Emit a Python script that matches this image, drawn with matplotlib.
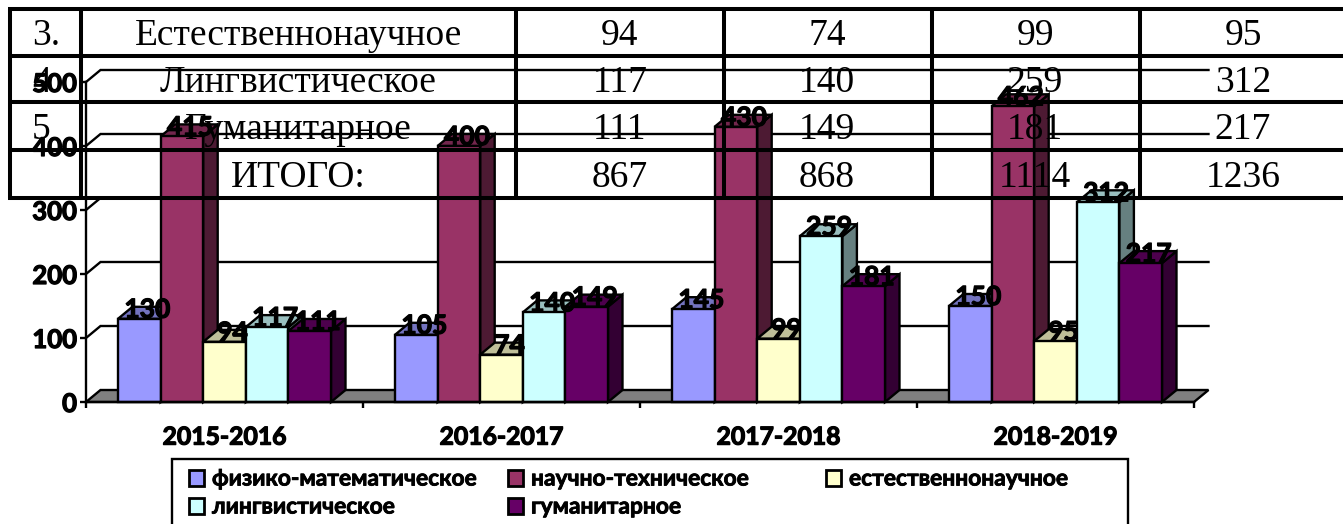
import matplotlib
matplotlib.use("Agg")
import matplotlib.pyplot as plt
import matplotlib.patheffects as pe
from matplotlib.patches import Polygon, Rectangle
from matplotlib.colors import to_rgb

# ---- data ----
years = ["2015-2016", "2016-2017", "2017-2018", "2018-2019"]
series_names = ["физико-математическое", "научно-техническое", "естественнонаучное",
                "лингвистическое", "гуманитарное"]
phys_math = [130, 105, 145, 150]
sci_tech = [415, 400, 430, 462]
natural = [94, 74, 99, 95]
linguistic = [117, 140, 259, 312]
humanities = [111, 149, 181, 217]
series_values = [phys_math, sci_tech, natural, linguistic, humanities]
series_colors = ["#9999FF", "#993366", "#FFFFCC", "#CCFFFF", "#660066"]
y_ticks = [0, 100, 200, 300, 400, 500]

table_rows = [
    ["3.", "Естественнонаучное", "94", "74", "99", "95"],
    ["4", "Лингвистическое", "117", "140", "259", "312"],
    ["5", "Гуманитарное", "111", "149", "181", "217"],
    ["", "ИТОГО:", "867", "868", "1114", "1236"],
]

# ---- layout (pixels) ----
W, H = 1343, 524
SANS = "Lato"
SERIF = "Liberation Serif"
LW = 1.7
HEAVY = [pe.withStroke(linewidth=0.9, foreground="black")]
fig = plt.figure(figsize=(W / 100, H / 100), dpi=100, facecolor="white")
L, R, B, T = 86, 1194, 402, 82
ax = fig.add_axes([L / W, 1 - B / H, (R - L) / W, (B - T) / H], zorder=1)
ax.set_xlim(0, 4)
ax.set_ylim(0, 500)
ax.patch.set_alpha(0)
for s in ("top", "right"):
    ax.spines[s].set_visible(False)
for s in ("left", "bottom"):
    ax.spines[s].set_linewidth(LW)

ddx = 14.5 / ((R - L) / 4)
ddy = 12 / ((B - T) / 500)
bar_w = 42.6 / ((R - L) / 4)

# floor and back-wall gridlines
ax.add_patch(Polygon([(0, 0), (ddx, ddy), (4 + ddx, ddy), (4, 0)], closed=True,
                     fc="#808080", ec="black", lw=LW, clip_on=False, zorder=1))
for v in y_ticks[1:]:
    ax.plot([0, ddx, 4 + ddx], [v, v + ddy, v + ddy], color="black", lw=LW,
            clip_on=False, zorder=1, solid_joinstyle="miter")


def shade(c, f):
    return tuple(x * f for x in to_rgb(c))


z = 2
for i in range(len(years)):
    for j, (vals, col) in enumerate(zip(series_values, series_colors)):
        x0 = i + 0.5 + (j - 2.5) * bar_w
        x1 = x0 + bar_w
        v = vals[i]
        ax.add_patch(Polygon([(x1, 0), (x1 + ddx, ddy), (x1 + ddx, v + ddy), (x1, v)], closed=True,
                             fc=shade(col, 0.5), ec="black", lw=LW, clip_on=False, zorder=z))
        ax.add_patch(Polygon([(x0, v), (x0 + ddx, v + ddy), (x1 + ddx, v + ddy), (x1, v)], closed=True,
                             fc=shade(col, 0.75), ec="black", lw=LW, clip_on=False, zorder=z))
        ax.bar(x0, v, width=bar_w, align="edge", color=col, edgecolor="black", lw=LW,
               clip_on=False, zorder=z)
        z += 0.01

for i in range(len(years)):
    for j, vals in enumerate(series_values):
        x = i + 0.5 + (j - 2) * bar_w + ddx * 0.55
        ax.text(x, vals[i] + ddy * 0.75, str(vals[i]), ha="center", va="center",
                family=SANS, fontweight="bold", fontsize=19, color="black", zorder=5,
                path_effects=HEAVY)

ax.set_yticks(y_ticks)
ax.set_xticks(range(5))
ax.set_xticklabels([])
ax.set_xticks([i + 0.5 for i in range(4)], minor=True)
ax.set_xticklabels(years, minor=True, family=SANS, fontweight="bold", fontsize=17.8,
                   path_effects=HEAVY)
ax.tick_params(axis="x", which="major", length=4.5, width=LW, direction="out")
ax.tick_params(axis="x", which="minor", length=0, pad=17)
ax.tick_params(axis="y", length=4.5, width=LW, pad=2, direction="out")
for t in ax.get_yticklabels():
    t.set(family=SANS, fontweight="bold", fontsize=18.5, path_effects=HEAVY)

# ---- overlay in pixel coordinates: legend box and Word table ----
ov = fig.add_axes([0, 0, 1, 1], zorder=3)
ov.set_xlim(0, W)
ov.set_ylim(H, 0)
ov.axis("off")
ov.patch.set_alpha(0)

# legend
ov.add_patch(Rectangle((172, 459), 956, 80, fc="white", ec="black", lw=LW, zorder=1))
leg_x = [189, 189, 508, 508, 826]
leg_y = [470, 498, 470, 498, 470]
leg_order = [0, 3, 1, 4, 2]
for xp, yp, k in zip(leg_x, leg_y, leg_order):
    ov.add_patch(Rectangle((xp, yp), 15, 16, fc=series_colors[k], ec="black", lw=2.0, zorder=2))
    ov.text(xp + 23, yp + 9, series_names[k], ha="left", va="center", family=SANS,
            fontweight="bold", fontsize=16.4, zorder=2,
            path_effects=[pe.withStroke(linewidth=0.6, foreground="black")])

# table grid
h_lines = [9, 56, 102, 150, 198]
v_lines = [10, 81, 516, 724, 932, 1140]
for y in h_lines:
    ov.plot([8, W], [y, y], color="black", lw=2.9, solid_capstyle="butt", zorder=6)
for x in v_lines:
    ov.plot([x, x], [9, 198], color="black", lw=2.9, solid_capstyle="butt", zorder=6)

baselines = [45, 92, 139, 187]
col_centers = [298, 620, 827, 1035, 1243]
for row, yb in zip(table_rows, baselines):
    ov.text(32, yb, row[0], ha="left", va="baseline", family=SERIF, fontsize=27, zorder=7)
    for txt, xc in zip(row[1:], col_centers):
        ov.text(xc, yb, txt, ha="center", va="baseline", family=SERIF, fontsize=27, zorder=7)

fig.savefig("out.png", dpi=100)
